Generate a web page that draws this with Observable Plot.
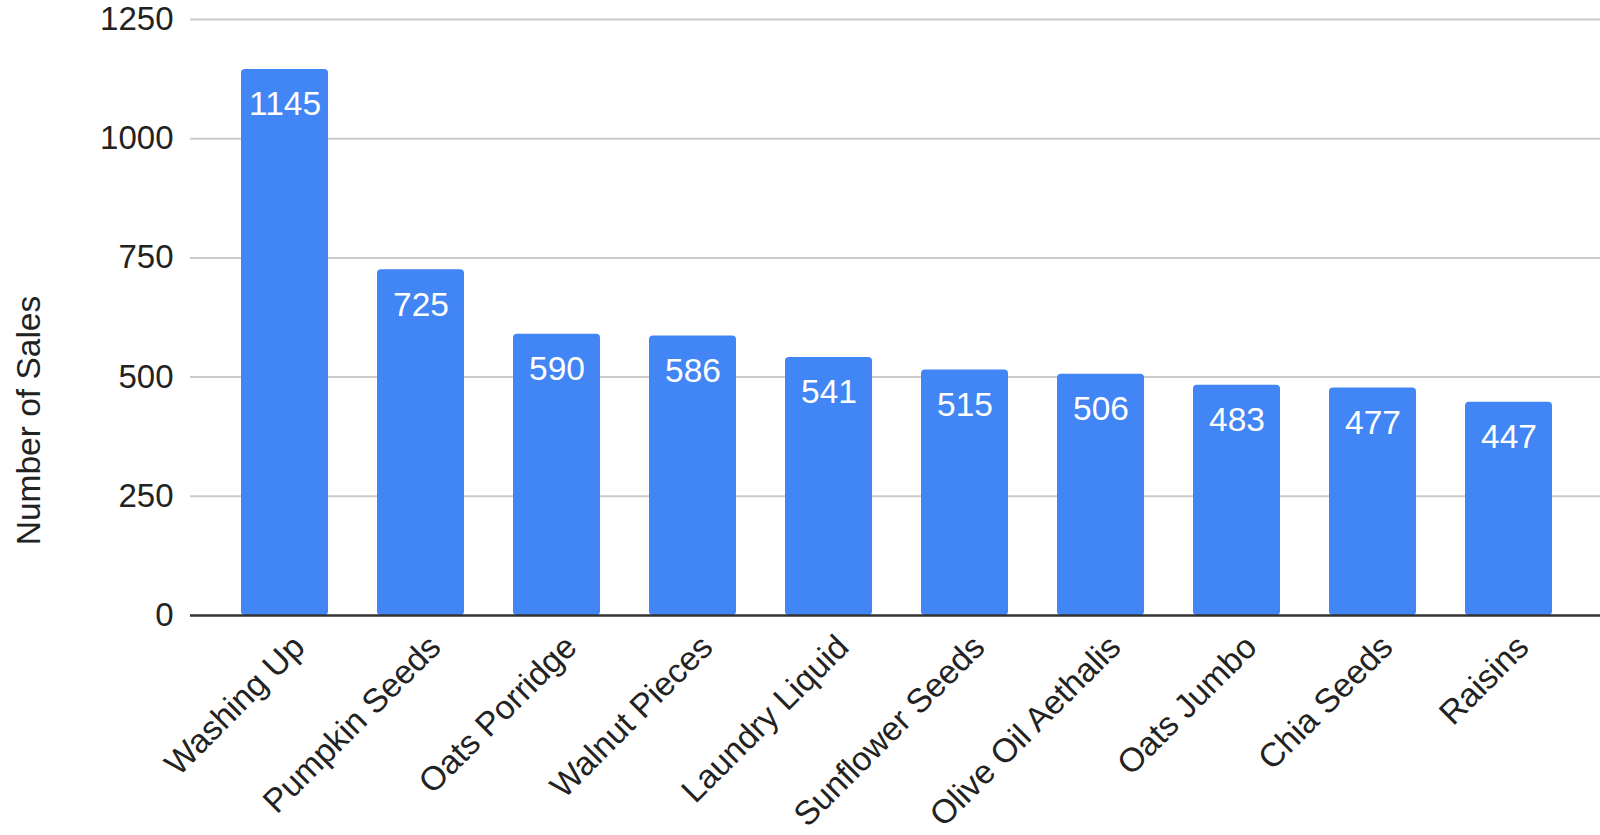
<!DOCTYPE html>
<html>
<head>
<meta charset="utf-8">
<script src="https://cdn.jsdelivr.net/npm/d3@7"></script>
<script src="https://cdn.jsdelivr.net/npm/@observablehq/plot@0.6"></script>
<style>
  html, body { margin: 0; padding: 0; background: #fff; overflow: hidden; }
  #chart { width: 1600px; height: 835px; }
  #chart svg { display: block; max-width: none !important; }
</style>
</head>
<body>
<div id="chart"></div>
<script>
const products = ["Washing Up", "Pumpkin Seeds", "Oats Porridge", "Walnut Pieces", "Laundry Liquid", "Sunflower Seeds", "Olive Oil Aethalis", "Oats Jumbo", "Chia Seeds", "Raisins"];
const sales = [1145, 725, 590, 586, 541, 515, 506, 483, 477, 447];
const yTicks = [0, 250, 500, 750, 1000, 1250];
const yTitle = "Number of Sales";

const data = products.map((p, i) => ({product: p, sales: sales[i]}));
const font = "'Liberation Sans', Arial, sans-serif";

const chart = Plot.plot({
  width: 1600,
  height: 835,
  marginLeft: 190,
  marginRight: 0,
  marginTop: 19,
  marginBottom: 220,
  style: {fontFamily: font, fontSize: "33px", color: "#222", background: "#fff", maxWidth: "none"},
  x: {domain: products, range: [215.5, 1578.5], paddingInner: 0.36, paddingOuter: 0.18, label: null},
  y: {domain: [0, 1250], label: null},
  marks: [
    Plot.ruleY(yTicks.filter(d => d > 0), {stroke: "#cccccc", strokeWidth: 2, strokeOpacity: 1}),
    Plot.barY(data, {x: "product", y: "sales", fill: "#4285F4", rx: 4}),
    Plot.ruleY([0], {stroke: "#333", strokeWidth: 2.5}),
    Plot.text(data, {x: "product", y: "sales", text: d => String(d.sales), fill: "#fff", fontSize: 33.5, lineAnchor: "middle", dy: 35}),
    Plot.axisY({ticks: yTicks, tickFormat: d => String(d), tickSize: 0, tickPadding: 17, fontSize: 33, label: null}),
    Plot.axisX({tickSize: 0, tickRotate: -45, tickPadding: 14, dx: 14, dy: 12, fontSize: 33.5, label: null}),
    Plot.text([yTitle], {frameAnchor: "top-left", text: d => d, textAnchor: "middle", lineAnchor: "middle", rotate: -90, dx: -161, dy: 401, fontSize: 33.5, fill: "#222"})
  ]
});
document.getElementById("chart").appendChild(chart);
</script>
</body>
</html>
